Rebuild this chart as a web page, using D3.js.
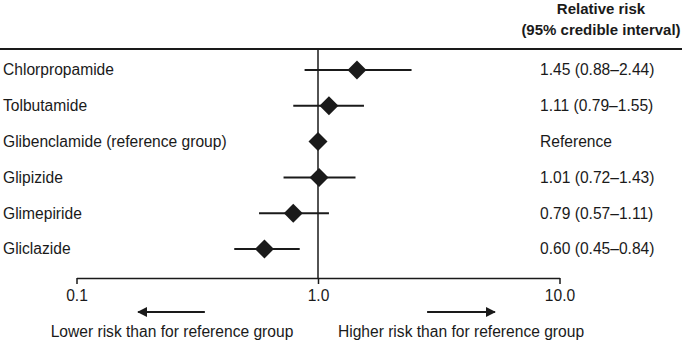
<!DOCTYPE html>
<html>
<head>
<meta charset="utf-8">
<script src="https://cdn.jsdelivr.net/npm/d3@7"></script>
<style>
  body { margin: 0; background: #fff; }
  svg { display: block; font-family: "Liberation Sans", Arial, Helvetica, sans-serif; }
</style>
</head>
<body>
<svg id="chart"></svg>
<script>
/* DATA */
const drugs = ["Chlorpropamide", "Tolbutamide", "Glibenclamide (reference group)", "Glipizide", "Glimepiride", "Gliclazide"];
const relRisk = [1.45, 1.11, 1.00, 1.01, 0.79, 0.60];
const lower = [0.88, 0.79, null, 0.72, 0.57, 0.45];
const upper = [2.44, 1.55, null, 1.43, 1.11, 0.84];
const ciLabels = ["1.45 (0.88\u20132.44)", "1.11 (0.79\u20131.55)", "Reference", "1.01 (0.72\u20131.43)", "0.79 (0.57\u20131.11)", "0.60 (0.45\u20130.84)"];
const tickValues = [0.1, 1, 10];
const tickLabels = ["0.1", "1.0", "10.0"];

/* CONSTANTS */
const width = 685, height = 345;
const axisY = 278, headerY = 49;
const ink = "#1a1a1a";
const fs = 15.6;

const svg = d3.select("#chart")
  .attr("width", width)
  .attr("height", height);

/* SCALES */
// log scale, one decade ~ 241px
const x = d3.scaleLog()
  .domain([0.1, 10])
  .range([76.5, 559.5]);

const y = d3.scalePoint()
  .domain(drugs)
  .range([70, 249]);

/* HEADER */
svg.append("text")
  .attr("x", 601).attr("y", 14)
  .attr("text-anchor", "middle")
  .attr("font-size", 15).attr("font-weight", "bold")
  .attr("fill", ink)
  .text("Relative risk");
svg.append("text")
  .attr("x", 601).attr("y", 35)
  .attr("text-anchor", "middle")
  .attr("font-size", 15).attr("font-weight", "bold")
  .attr("fill", ink)
  .text("(95% credible interval)");

svg.append("line")
  .attr("x1", 0).attr("x2", 682)
  .attr("y1", headerY).attr("y2", headerY)
  .attr("stroke", ink).attr("stroke-width", 2);

/* NULL LINE at 1.0 */
svg.append("line")
  .attr("x1", x(1)).attr("x2", x(1))
  .attr("y1", headerY).attr("y2", axisY)
  .attr("stroke", ink).attr("stroke-width", 1.5);

/* AXIS */
const xAxis = d3.axisBottom(x)
  .tickValues(tickValues)
  .tickFormat((d, i) => tickLabels[i])
  .tickSize(6)
  .tickSizeOuter(0);

const gx = svg.append("g")
  .attr("transform", `translate(0,${axisY})`)
  .call(xAxis);
gx.select(".domain").attr("stroke", ink).attr("stroke-width", 1.5);
gx.selectAll(".tick line").attr("stroke", ink).attr("stroke-width", 1.5);
gx.selectAll(".tick text")
  .attr("y", 12)
  .attr("font-size", fs)
  .attr("font-family", "Liberation Sans, Arial, sans-serif")
  .attr("fill", ink);

/* ROWS */
const rows = drugs.map((d, i) => ({ name: d, rr: relRisk[i], lo: lower[i], hi: upper[i], label: ciLabels[i] }));

svg.selectAll(".name")
  .data(rows)
  .join("text")
  .attr("class", "name")
  .attr("x", 3)
  .attr("y", d => y(d.name))
  .attr("dy", "0.35em")
  .attr("font-size", fs)
  .attr("fill", ink)
  .text(d => d.name);

svg.selectAll(".ci")
  .data(rows.filter(d => d.lo != null))
  .join("line")
  .attr("class", "ci")
  .attr("x1", d => x(d.lo))
  .attr("x2", d => x(d.hi))
  .attr("y1", d => y(d.name))
  .attr("y2", d => y(d.name))
  .attr("stroke", ink)
  .attr("stroke-width", 2);

const diamond = d3.symbol().type(d3.symbolSquare).size(180);
svg.selectAll(".pt")
  .data(rows)
  .join("path")
  .attr("class", "pt")
  .attr("d", diamond)
  .attr("transform", d => `translate(${x(d.rr)},${y(d.name)}) rotate(45)`)
  .attr("fill", ink);

svg.selectAll(".val")
  .data(rows)
  .join("text")
  .attr("class", "val")
  .attr("x", 540)
  .attr("y", d => y(d.name))
  .attr("dy", "0.35em")
  .attr("font-size", fs)
  .attr("fill", ink)
  .text(d => d.label);

/* DIRECTION ARROWS */
const arrowY = 312;
const defs = svg.append("defs");
defs.append("marker")
  .attr("id", "head")
  .attr("viewBox", "0 0 10 10")
  .attr("refX", 9).attr("refY", 5)
  .attr("markerWidth", 5).attr("markerHeight", 5)
  .attr("markerUnits", "strokeWidth")
  .attr("orient", "auto")
  .append("path")
  .attr("d", "M0,0L10,5L0,10z")
  .attr("fill", ink);

svg.append("line")
  .attr("x1", x(0.34)).attr("x2", x(0.18))
  .attr("y1", arrowY).attr("y2", arrowY)
  .attr("stroke", ink).attr("stroke-width", 2)
  .attr("marker-end", "url(#head)");
svg.append("line")
  .attr("x1", x(2.83)).attr("x2", x(5.4))
  .attr("y1", arrowY).attr("y2", arrowY)
  .attr("stroke", ink).attr("stroke-width", 2)
  .attr("marker-end", "url(#head)");

svg.append("text")
  .attr("x", 172).attr("y", 332)
  .attr("dy", "0.35em")
  .attr("text-anchor", "middle")
  .attr("font-size", fs)
  .attr("fill", ink)
  .text("Lower risk than for reference group");
svg.append("text")
  .attr("x", 461).attr("y", 332)
  .attr("dy", "0.35em")
  .attr("text-anchor", "middle")
  .attr("font-size", fs)
  .attr("fill", ink)
  .text("Higher risk than for reference group");
</script>
</body>
</html>
